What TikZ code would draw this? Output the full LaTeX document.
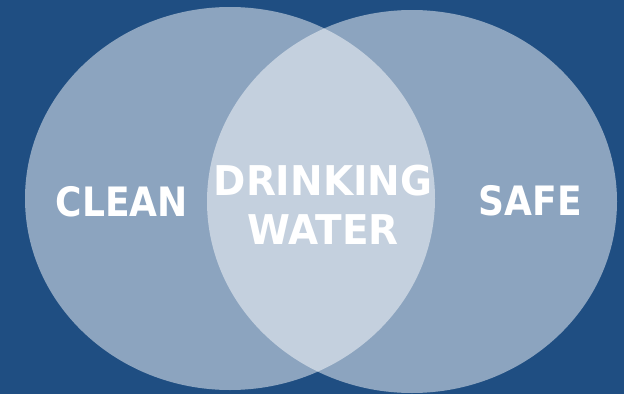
\documentclass[tikz,border=0pt]{standalone}
\usepackage{fontspec}
\setmainfont{DejaVu Sans}[FakeStretch=0.89]
\newfontfamily\dwfont{DejaVu Sans}[FakeStretch=0.95]
\definecolor{bgblue}{RGB}{31,78,130}
\begin{document}
\begin{tikzpicture}[x=1pt,y=-1pt,
  circ/.style={fill=white,fill opacity=0.49},
  lbl/.style={text=white,font=\fontsize{40.5}{49}\selectfont\bfseries,align=center,inner sep=0pt}]
\fill[bgblue] (0,0) rectangle (624,394);
\useasboundingbox (0,0) rectangle (624,394);
\fill[circ] (230,198.5) ellipse [x radius=205, y radius=191.5];
\fill[circ] (412,201.5) ellipse [x radius=205, y radius=191.5];
\node[lbl] (clean) at (122,202) {CLEAN};
\node[lbl,font=\dwfont\fontsize{41}{49}\selectfont\bfseries] (dw) at (323,205) {DRINKING\\WATER};
\node[lbl] (safe) at (530.5,201) {SAFE};
\end{tikzpicture}
\end{document}
